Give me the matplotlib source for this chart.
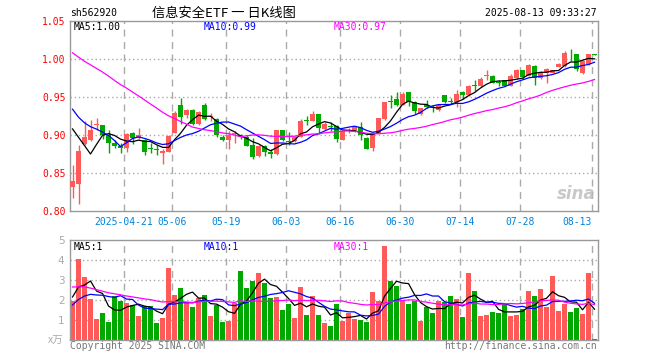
import numpy as np
import pandas as pd
import matplotlib
matplotlib.use("Agg")
import matplotlib.pyplot as plt

# daily candles 2025-04-08 .. 2025-08-13 (88 trading days)
opens = [0.831, 0.836, 0.888, 0.894, 0.913, 0.913, 0.900, 0.889, 0.886, 0.883,
         0.903, 0.896, 0.894, 0.883, 0.882, 0.876, 0.878, 0.903, 0.939, 0.926,
         0.933, 0.915, 0.940, 0.924, 0.921, 0.898, 0.894, 0.901, 0.900, 0.897,
         0.887, 0.872, 0.886, 0.878, 0.875, 0.906, 0.892, 0.892, 0.898, 0.919,
         0.919, 0.928, 0.908, 0.912, 0.912, 0.894, 0.906, 0.906, 0.911, 0.896,
         0.883, 0.903, 0.921, 0.944, 0.947, 0.940, 0.956, 0.944, 0.927, 0.940,
         0.937, 0.933, 0.952, 0.945, 0.944, 0.957, 0.952, 0.965, 0.964, 0.978,
         0.978, 0.970, 0.972, 0.965, 0.975, 0.985, 0.978, 0.991, 0.975, 0.981,
         0.982, 0.990, 0.991, 1.007, 1.006, 0.981, 0.993, 1.006]
highs = [0.860, 0.887, 0.918, 0.920, 0.922, 0.913, 0.907, 0.894, 0.889, 0.903,
         0.904, 0.909, 0.895, 0.889, 0.887, 0.881, 0.900, 0.931, 0.949, 0.934,
         0.934, 0.931, 0.942, 0.929, 0.922, 0.900, 0.905, 0.905, 0.901, 0.900,
         0.896, 0.887, 0.887, 0.881, 0.906, 0.906, 0.904, 0.899, 0.921, 0.925,
         0.931, 0.928, 0.917, 0.917, 0.913, 0.907, 0.909, 0.912, 0.917, 0.897,
         0.904, 0.923, 0.944, 0.953, 0.957, 0.956, 0.957, 0.945, 0.936, 0.946,
         0.940, 0.940, 0.953, 0.949, 0.959, 0.958, 0.966, 0.973, 0.976, 0.985,
         0.979, 0.973, 0.972, 0.980, 0.987, 0.986, 0.994, 0.992, 0.984, 0.988,
         0.986, 0.995, 1.010, 1.013, 1.006, 0.999, 1.007, 1.006]
lows = [0.817, 0.809, 0.887, 0.892, 0.907, 0.895, 0.876, 0.883, 0.876, 0.877,
        0.888, 0.895, 0.874, 0.876, 0.874, 0.862, 0.877, 0.902, 0.914, 0.922,
        0.913, 0.913, 0.920, 0.918, 0.897, 0.892, 0.881, 0.890, 0.895, 0.885,
        0.868, 0.871, 0.872, 0.870, 0.874, 0.892, 0.887, 0.891, 0.897, 0.913,
        0.918, 0.901, 0.906, 0.905, 0.891, 0.893, 0.903, 0.904, 0.894, 0.881,
        0.879, 0.902, 0.920, 0.936, 0.938, 0.939, 0.938, 0.927, 0.926, 0.935,
        0.930, 0.932, 0.942, 0.941, 0.937, 0.947, 0.951, 0.958, 0.963, 0.972,
        0.968, 0.965, 0.964, 0.964, 0.974, 0.974, 0.977, 0.966, 0.974, 0.968,
        0.981, 0.989, 0.990, 0.998, 0.984, 0.980, 0.992, 1.005]
closes = [0.840, 0.879, 0.898, 0.907, 0.914, 0.900, 0.890, 0.886, 0.883, 0.901,
          0.896, 0.900, 0.878, 0.882, 0.880, 0.879, 0.899, 0.929, 0.924, 0.933,
          0.915, 0.930, 0.921, 0.925, 0.900, 0.894, 0.900, 0.902, 0.897, 0.886,
          0.871, 0.886, 0.878, 0.875, 0.906, 0.894, 0.891, 0.898, 0.919, 0.918,
          0.928, 0.909, 0.914, 0.910, 0.895, 0.905, 0.907, 0.911, 0.900, 0.882,
          0.903, 0.922, 0.943, 0.943, 0.939, 0.954, 0.944, 0.931, 0.935, 0.937,
          0.935, 0.939, 0.944, 0.944, 0.954, 0.952, 0.965, 0.964, 0.974, 0.979,
          0.969, 0.969, 0.965, 0.978, 0.986, 0.976, 0.992, 0.975, 0.983, 0.987,
          0.985, 0.994, 1.008, 1.006, 0.987, 0.997, 1.006, 1.005]
volumes = [1.95, 4.05, 3.13, 2.05, 1.05, 1.35, 0.90, 2.18, 1.95, 1.85,
           1.75, 1.22, 1.70, 1.70, 0.85, 1.10, 3.60, 2.25, 2.60, 1.88,
           1.65, 2.10, 2.25, 1.22, 1.75, 0.90, 0.95, 1.85, 3.45, 2.60,
           2.97, 3.35, 2.85, 2.10, 2.15, 1.50, 1.80, 1.10, 2.65, 1.25,
           2.20, 1.25, 0.85, 0.70, 1.80, 0.95, 1.35, 1.05, 1.00, 0.90,
           2.40, 1.95, 4.70, 2.95, 2.70, 1.95, 1.80, 1.95, 0.97, 1.67,
           1.35, 1.95, 1.90, 2.20, 2.05, 1.15, 3.35, 2.45, 1.22, 1.25,
           1.40, 1.35, 1.80, 1.22, 1.25, 1.55, 2.45, 2.20, 2.55, 1.67,
           3.20, 1.45, 1.80, 1.40, 1.60, 1.30, 3.35, 0.05]

# sessions before the window, estimated so the moving averages start where the chart shows
prior_closes = [1.052, 1.060, 1.048, 1.055, 1.043, 1.050, 1.058, 1.046, 1.041, 1.049,
                1.053, 1.038, 1.044, 1.036, 1.047, 1.040, 1.032, 1.045, 1.038, 1.030,
                0.985, 0.972, 0.958, 0.945, 0.940, 0.934, 0.953, 0.962, 0.851]
prior_volumes = [3.8, 3.2, 3.9, 3.4, 3.6, 3.3, 3.7, 3.5, 3.6, 3.1,
                 2.7, 3.2, 2.8, 2.9, 2.6, 3.0, 2.6, 2.3, 2.5, 2.3,
                 1.3, 1.4, 1.2, 1.38, 1.47, 1.55, 2.63, 1.05, 3.57]

tick_idx = [9, 17, 26, 36, 45, 55, 65, 75, 87]
tick_labels = ["2025-04-21", "05-06", "05-19", "06-03", "06-16",
               "06-30", "07-14", "07-28", "08-13"]

RED = "#ff5a5a"
GREEN = "#00a800"
GRID = "#aaaaaa"
MONO = ["DejaVu Sans Mono"]
CJK = ["Noto Sans CJK SC", "DejaVu Sans"]


def moving_avg(prior, vals, n):
    s = pd.Series(list(prior) + list(vals))
    return s.rolling(n).mean().to_numpy()[len(prior):]


o = np.array(opens)
c = np.array(closes)
x = np.arange(len(c))
colors = np.where(c >= o, RED, GREEN)

W, H = 660, 360
fig = plt.figure(figsize=(6.6, 3.6), dpi=100)
ax = fig.add_axes([70 / W, 1 - 211 / H, 528 / W, 190 / H])
axv = fig.add_axes([70 / W, 1 - 340 / H, 528 / W, 100 / H])

grid_x = [i - 0.42 for i in tick_idx]
for a in (ax, axv):
    a.set_xlim(-0.42, len(c) - 0.42)
    for gx in grid_x:
        a.axvline(gx, color=GRID, lw=1, ls=(0, (5, 4)), zorder=0)
    for s in a.spines.values():
        s.set_color("#999999")
        s.set_linewidth(1)
    a.tick_params(length=0)
    a.set_xticks([])

# price panel
ax.vlines(x, lows, highs, colors=colors, lw=1, zorder=2)
ax.bar(x, np.maximum(np.abs(c - o), 0.0012), bottom=np.minimum(o, c),
       width=0.8, color=colors, lw=0, zorder=3)
ax.plot(x, moving_avg(prior_closes, closes, 5), color="black", lw=0.9, zorder=4)
ax.plot(x, moving_avg(prior_closes, closes, 10), color="#0000ff", lw=0.9, zorder=4)
ax.plot(x, moving_avg(prior_closes, closes, 30), color="#ff00ff", lw=0.9, zorder=4)
ax.set_ylim(0.80, 1.05)
for lv in [0.85, 0.90, 0.95, 1.00]:
    ax.axhline(lv, color=GRID, lw=1, ls=(0, (1, 2)), zorder=0)
ax.set_yticks([0.80, 0.85, 0.90, 0.95, 1.00, 1.05])
ax.set_yticklabels(["0.80", "0.85", "0.90", "0.95", "1.00", "1.05"],
                   color="#ff0000", family=MONO, fontsize=7)
ax.tick_params(axis="y", pad=3)
for gx, lab in zip(grid_x, tick_labels):
    ha = "right" if lab == tick_labels[-1] else "center"
    ax.text(gx, -0.03, lab, transform=ax.get_xaxis_transform(), ha=ha, va="top",
            color="#0082dc", family=MONO, fontsize=7)
ax.text(0.995, 0.09, "sina", transform=ax.transAxes, ha="right", va="center",
        color="#bbbbbb", fontsize=12, fontweight="bold", style="italic", alpha=0.8)

# volume panel
axv.bar(x, volumes, width=0.8, color=colors, lw=0, zorder=2)
axv.plot(x, moving_avg(prior_volumes, volumes, 5), color="black", lw=0.9, zorder=4)
axv.plot(x, moving_avg(prior_volumes, volumes, 10), color="#0000ff", lw=0.9, zorder=4)
axv.plot(x, moving_avg(prior_volumes, volumes, 30), color="#ff00ff", lw=0.9, zorder=4)
axv.set_ylim(0, 5)
for lv in [1, 2, 3, 4]:
    axv.axhline(lv, color=GRID, lw=1, ls=(0, (1, 2)), zorder=0)
axv.set_yticks([1, 2, 3, 4, 5])
axv.set_yticklabels(["1", "2", "3", "4", "5"], color="#aaaaaa", fontsize=7.5)
axv.tick_params(axis="y", pad=4)


def px_text(px, py, s, **kw):
    fig.text(px / W, 1 - py / H, s, va="center", **kw)


px_text(70, 13, "sh562920", family=MONO, fontsize=7, color="black")
px_text(152, 13, "信息安全ETF 一 日K线图", family=CJK, fontsize=9.5, color="black")
px_text(597, 13, "2025-08-13 09:33:27", family=MONO, fontsize=7, color="black", ha="right")

px_text(74, 27, "MA5:1.00", family=MONO, fontsize=7, color="black")
px_text(204, 27, "MA10:0.99", family=MONO, fontsize=7, color="#0000ff")
px_text(334, 27, "MA30:0.97", family=MONO, fontsize=7, color="#ff00ff")

px_text(74, 247, "MA5:1", family=MONO, fontsize=7, color="black")
px_text(204, 247, "MA10:1", family=MONO, fontsize=7, color="#0000ff")
px_text(334, 247, "MA30:1", family=MONO, fontsize=7, color="#ff00ff")

px_text(63, 341, "x万", family=CJK, fontsize=7.5, color="#aaaaaa", ha="right", style="italic")
px_text(70, 346, "Copyright 2025 SINA.COM", family=MONO, fontsize=7, color="#777777")
px_text(597, 346, "http://finance.sina.com.cn", family=MONO, fontsize=7,
        color="#777777", ha="right")

fig.savefig("out.png", dpi=100)
plt.close(fig)
